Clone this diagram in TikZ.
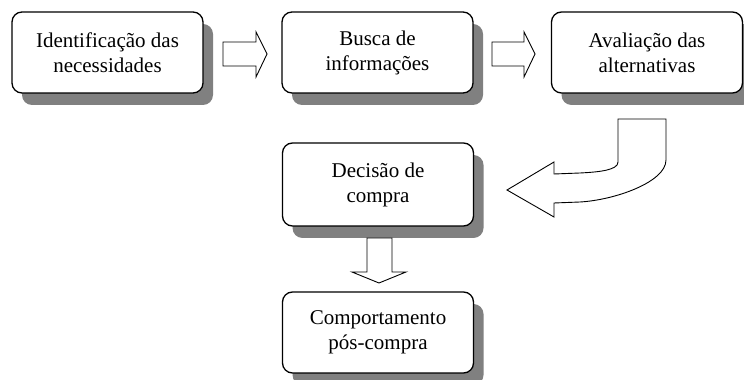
\documentclass[tikz,border=0pt]{standalone}
\usepackage{fontspec}
\setmainfont{Liberation Serif}
\usetikzlibrary{shadows}
\definecolor{shadowgray}{RGB}{128,128,128}
\begin{document}
\begin{tikzpicture}[x=1pt,y=1pt,
  stage/.style={draw=black, line width=1.3pt, rounded corners=10pt, fill=white,
    align=center, minimum width=191pt, minimum height=81pt, inner sep=0pt,
    font=\fontsize{21}{25}\selectfont,
    drop shadow={shadow xshift=10pt, shadow yshift=-12pt, fill=shadowgray, opacity=1}},
  blockarrow/.style={draw=black, line width=0.9pt, fill=white, line join=miter}]
\useasboundingbox (0,0) rectangle (744,380);
\node[stage] (s1) at (107.5,327.5) {Identificação das\\necessidades};
\node[stage] (s2) at (377.5,327.5) {Busca de\\informações};
\node[stage] (s3) at (647,327.5) {Avaliação das\\alternativas};
\node[stage, minimum height=83pt] (s4) at (378,195.5) {Decisão de\\compra};
\node[stage] (s5) at (378,47.5) {Comportamento\\pós-compra};
% straight block arrows
\draw[blockarrow] (223,338) -- (256,338) -- (256,348) -- (267,326) -- (256,303) -- (256,314) -- (223,314) -- cycle;
\draw[blockarrow] (492,338) -- (524,338) -- (524,348) -- (535,326) -- (524,303) -- (524,314) -- (492,314) -- cycle;
% curved block arrow
\draw[blockarrow] (618,261) -- (666,261) -- (666,220)
  .. controls (666,198) and (615,180) .. (580,178) -- (554,177) -- (554,163)
  -- (507,190) -- (554,218) -- (554,206) -- (580,207)
  .. controls (600,208) and (618,210) .. (618,218) -- cycle;
% down block arrow
\draw[blockarrow] (367,142) -- (392,142) -- (392,108) -- (406,108) -- (379,97) -- (352,108) -- (367,108) -- cycle;
\end{tikzpicture}
\end{document}
